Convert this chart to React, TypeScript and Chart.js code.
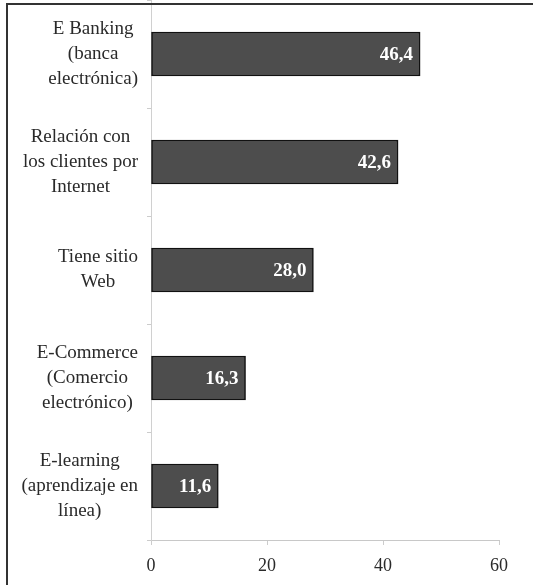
import React, { useEffect, useRef } from "react";
import { Chart, registerables } from "chart.js";

Chart.register(...registerables);

const categories: string[][] = [
  ["E Banking", "(banca", "electrónica)"],
  ["Relación con", "los clientes por", "Internet"],
  ["Tiene sitio", "Web"],
  ["E-Commerce", "(Comercio", "electrónico)"],
  ["E-learning", "(aprendizaje en", "línea)"],
];
const values: number[] = [46.4, 42.6, 28.0, 16.3, 11.6];
const valueLabels: string[] = ["46,4", "42,6", "28,0", "16,3", "11,6"];
const xTicks: number[] = [0, 20, 40, 60];

const SERIF = '"Liberation Serif", "Times New Roman", serif';

const framePlugin = {
  id: "frame",
  afterDraw(chart: any) {
    const ctx = chart.ctx;
    ctx.save();
    ctx.strokeStyle = "#333";
    ctx.lineWidth = 2;
    ctx.beginPath();
    ctx.moveTo(7, chart.height);
    ctx.lineTo(7, 4);
    ctx.lineTo(chart.width, 4);
    ctx.stroke();
    ctx.restore();
  },
};

const labelPlugin = {
  id: "customLabels",
  afterDraw(chart: any) {
    const ctx = chart.ctx;
    const yScale = chart.scales.y;
    ctx.save();
    ctx.font = `19px ${SERIF}`;
    ctx.fillStyle = "#2a2a2a";
    ctx.textBaseline = "middle";
    ctx.textAlign = "center";
    const LH = 25;
    categories.forEach((lines, i) => {
      const cy = yScale.getPixelForValue(i);
      const w = Math.max(...lines.map((l) => ctx.measureText(l).width));
      const cx = yScale.right - 13 - w / 2;
      lines.forEach((l, j) => {
        ctx.fillText(l, cx, cy + (j - (lines.length - 1) / 2) * LH);
      });
    });
    ctx.font = `bold 19px ${SERIF}`;
    ctx.fillStyle = "#ffffff";
    ctx.textAlign = "right";
    const meta = chart.getDatasetMeta(0);
    meta.data.forEach((bar: any, i: number) => {
      ctx.fillText(valueLabels[i], bar.x - 7, bar.y + 1);
    });
    ctx.restore();
  },
};

export default function App() {
  const canvasRef = useRef<HTMLCanvasElement | null>(null);

  useEffect(() => {
    document.body.style.margin = "0";
    document.documentElement.style.overflow = "hidden";
    const canvas = canvasRef.current;
    if (!canvas) return;
    const chart = new Chart(canvas, {
      type: "bar",
      data: {
        labels: categories,
        datasets: [
          {
            data: values,
            backgroundColor: "#4d4d4d",
            borderColor: "#111",
            borderWidth: 1.5,
            borderSkipped: false,
            barThickness: 44,
          },
        ],
      },
      options: {
        indexAxis: "y",
        responsive: false,
        animation: false,
        devicePixelRatio: 1,
        layout: { padding: { top: 0, right: 34, bottom: 0, left: 0 } },
        plugins: {
          legend: { display: false },
          tooltip: { enabled: false },
        },
        scales: {
          x: {
            min: 0,
            max: 60,
            afterBuildTicks: (scale: any) => {
              scale.ticks = xTicks.map((v) => ({ value: v }));
            },
            afterFit: (scale: any) => {
              scale.height = 45;
            },
            ticks: {
              color: "#2a2a2a",
              font: { family: SERIF, size: 18 },
              padding: 10,
            },
            grid: {
              drawOnChartArea: false,
              drawTicks: true,
              tickLength: 5,
              tickColor: "#ccc",
            },
            border: { display: true, color: "#c8c8c8", width: 1 },
          },
          y: {
            afterFit: (scale: any) => {
              scale.width = 151;
              scale.paddingTop = 0;
              scale.paddingBottom = 0;
            },
            ticks: {
              color: "transparent",
              font: { family: SERIF, size: 18 },
            },
            grid: {
              offset: true,
              drawOnChartArea: false,
              drawTicks: true,
              tickLength: 4,
              tickColor: "#ccc",
            },
            border: { display: true, color: "#d0d0d0", width: 1 },
          },
        },
      },
      plugins: [labelPlugin, framePlugin],
    });
    return () => chart.destroy();
  }, []);

  return (
    <div style={{ position: "relative", width: 533, height: 585, overflow: "hidden", background: "#fff" }}>
      <canvas ref={canvasRef} width={533} height={585} style={{ position: "absolute", left: 0, top: 0 }} />
    </div>
  );
}
